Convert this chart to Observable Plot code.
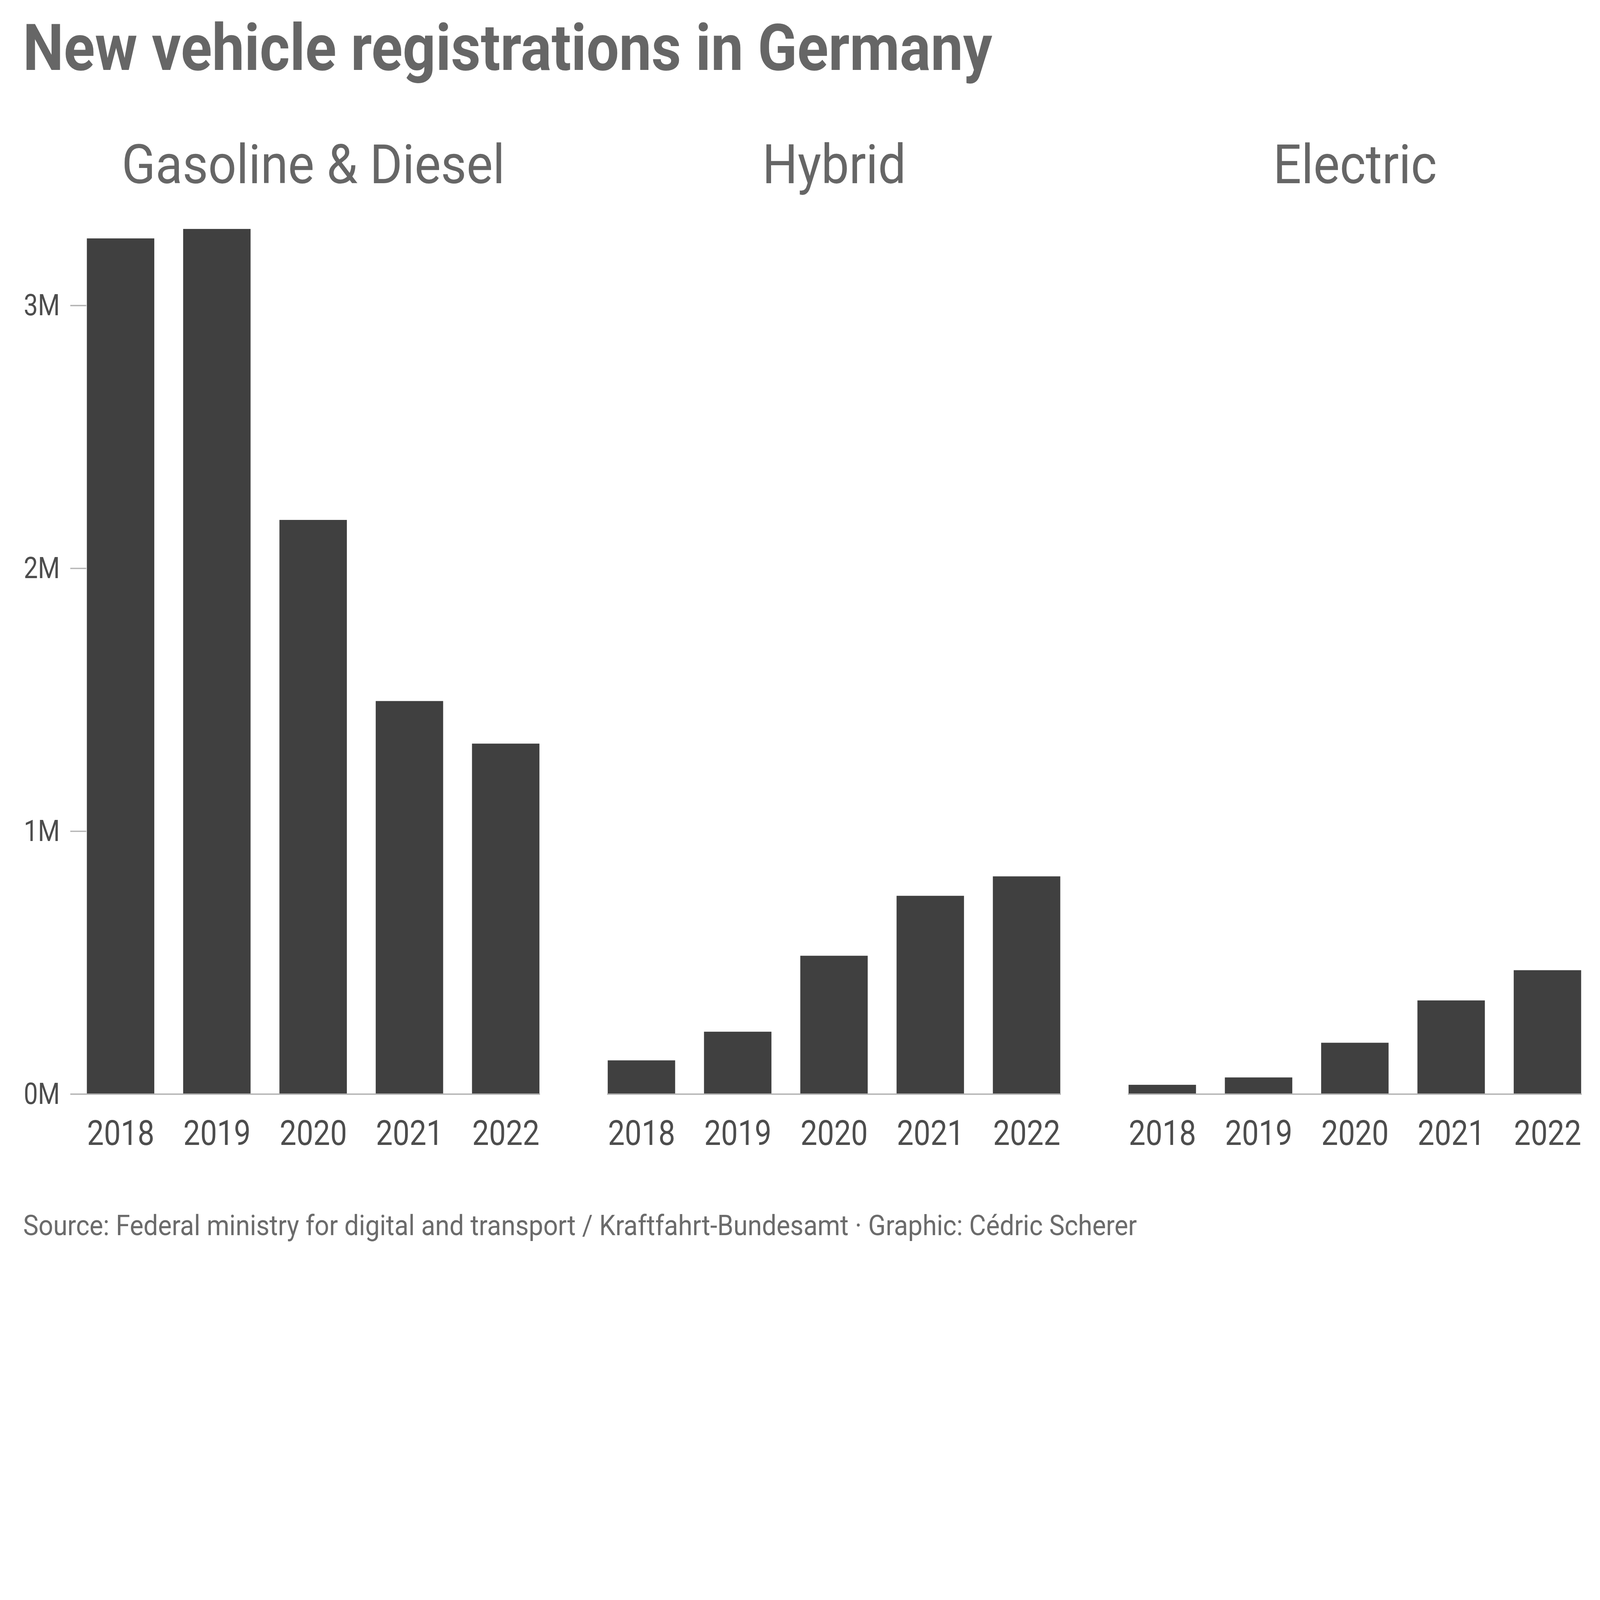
<!DOCTYPE html>
<html>
<head>
<meta charset="utf-8">
<script src="https://cdn.jsdelivr.net/npm/d3@7"></script>
<script src="https://cdn.jsdelivr.net/npm/@observablehq/plot@0.6"></script>
<style>
  html, body { margin: 0; padding: 0; background: #fff; overflow: hidden; }
  #wrap { position: relative; overflow: hidden; background: #fff; }
  #page { position: absolute; left: 0; top: 0; width: 5600px; height: 4400px; background: #fff; overflow: hidden;
          font-family: Roboto, "Noto Sans", sans-serif; transform-origin: 0 0; }
  #title { position: absolute; left: 80px; top: 56px; font-size: 225px; line-height: 1; font-weight: 700; color: #666666;
           white-space: nowrap; transform-origin: 0 0; transform: scaleX(0.9); }
  #chart { position: absolute; left: 0; top: 380px; width: 5600px; }
  #chart svg { max-width: none; }
  #caption { position: absolute; left: 81px; top: 4241px; font-size: 98px; line-height: 1; color: #6b6b6b;
             white-space: nowrap; transform-origin: 0 0; transform: scaleX(0.922); }
</style>
</head>
<body>
<div id="wrap">
<div id="page">
  <div id="title">New vehicle registrations in Germany</div>
  <div id="chart"></div>
  <div id="caption">Source: Federal ministry for digital and transport / Kraftfahrt-Bundesamt · Graphic: Cédric Scherer</div>
</div>
</div>
<script>
const categories = ["Gasoline & Diesel", "Hybrid", "Electric"];
const years = ["2018", "2019", "2020", "2021", "2022"];
const gasolineDiesel = [3255000, 3291000, 2184000, 1495000, 1333000];
const hybrid = [128000, 237000, 526000, 754000, 828000];
const electric = [35000, 63000, 195000, 356000, 471000];
const yTicks = [0, 1000000, 2000000, 3000000];

const series = [gasolineDiesel, hybrid, electric];
const data = [];
categories.forEach((c, i) => years.forEach((y, j) => data.push({type: c, year: y, value: series[i][j]})));

// fit the 5600x4400 page into the actual viewport
const W = 5600, H = 4400;
const s = Math.min(window.innerWidth / W, window.innerHeight / H) || 1;
const wrap = document.getElementById("wrap");
wrap.style.width = (W * s) + "px";
wrap.style.height = (H * s) + "px";
document.getElementById("page").style.transform = `scale(${s})`;

const chart = Plot.plot({
  width: 5600,
  height: 3720,
  marginTop: 413,
  marginBottom: 271,
  marginLeft: 301,
  marginRight: 64,
  style: {fontFamily: "Roboto, 'Noto Sans', sans-serif", background: "#fff", overflow: "visible"},
  fx: {domain: categories, paddingInner: 0.129, paddingOuter: 0, label: null},
  x: {domain: years, paddingInner: 0.3, paddingOuter: 0, label: null},
  y: {domain: [0, 3300000], label: null},
  marks: [
    Plot.barY(data, {fx: "type", x: "year", y: "value", fill: "#404040"}),
    Plot.ruleY([0], {stroke: "#b3b3b3", strokeWidth: 5}),
    Plot.axisFx({anchor: "top", tickSize: 0, tickPadding: 152, fontSize: 191, fill: "#666666", label: null, ariaLabel: "fx-axis"}),
    Plot.axisX({anchor: "bottom", tickSize: 0, tickPadding: 91, fontSize: 122, fill: "#4d4d4d", label: null, ariaLabel: "x-axis"}),
    Plot.axisY({anchor: "left", ticks: yTicks, tickFormat: d => (d / 1e6) + "M", tickSize: 56, tickPadding: 37,
                stroke: "#b3b3b3", strokeWidth: 4.5, fill: "#4d4d4d", fontSize: 105, label: null, ariaLabel: "y-axis"})
  ]
});
document.getElementById("chart").appendChild(chart);

// horizontally condense the axis texts around their anchor point (condensed look of the original)
function squeeze(k, test) {
  chart.querySelectorAll("text").forEach(t => {
    if (!test(t)) return;
    const b = t.getBBox();
    const a = getComputedStyle(t).textAnchor;
    const cx = a === "end" ? b.x + b.width : a === "start" ? b.x : b.x + b.width / 2;
    t.setAttribute("transform", (t.getAttribute("transform") || "") + ` translate(${cx},0) scale(${k},1) translate(${-cx},0)`);
  });
}
const inGroup = name => t => { const g = t.closest("g[aria-label]"); return g && g.getAttribute("aria-label").startsWith(name); };
squeeze(0.91, inGroup("fx-axis"));
squeeze(0.86, inGroup("x-axis"));
squeeze(0.84, inGroup("y-axis"));
</script>
</body>
</html>
